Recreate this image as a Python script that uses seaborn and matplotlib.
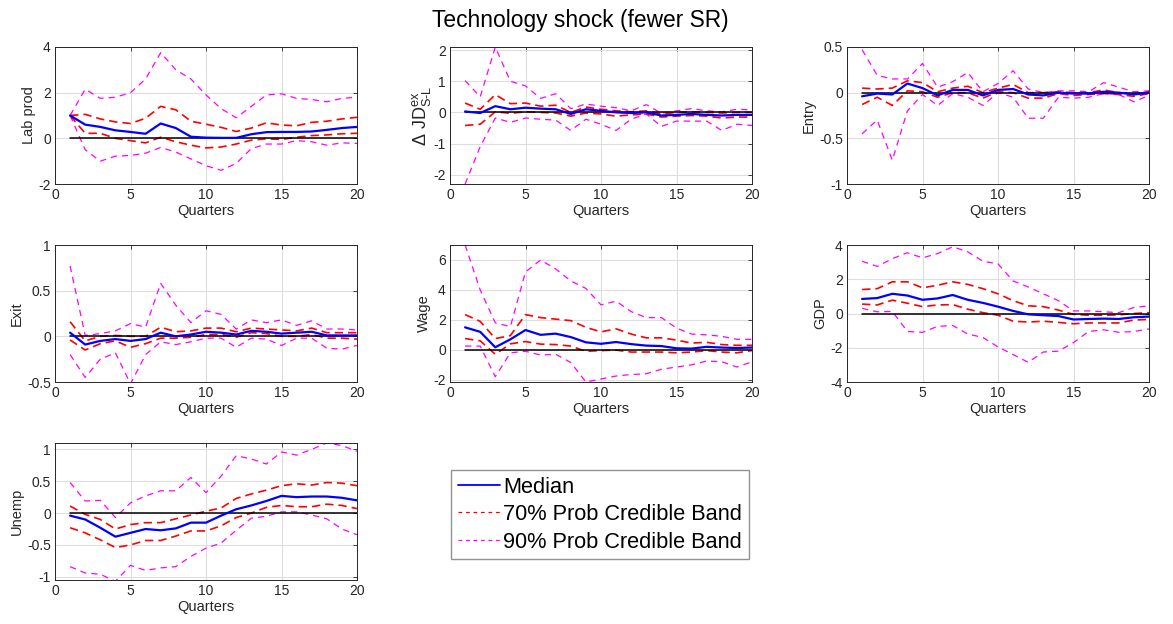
import numpy as np
import pandas as pd
import matplotlib
matplotlib.use("Agg")
import matplotlib.pyplot as plt
import seaborn as sns
from matplotlib.lines import Line2D

quarters = list(range(1, 21))

labprod_med = [1.0, 0.6, 0.5, 0.35, 0.28, 0.2, 0.65, 0.45, 0.07, 0.03, 0.02, 0.02, 0.18, 0.27, 0.28, 0.28, 0.3, 0.37, 0.45, 0.5]
labprod_u70 = [1.0, 1.05, 0.85, 0.72, 0.65, 0.88, 1.4, 1.25, 0.75, 0.62, 0.48, 0.3, 0.45, 0.68, 0.58, 0.55, 0.7, 0.75, 0.85, 0.92]
labprod_l70 = [1.0, 0.22, 0.22, 0.0, -0.1, -0.2, 0.05, -0.15, -0.3, -0.42, -0.38, -0.25, -0.08, -0.02, -0.05, 0.05, 0.12, 0.15, 0.2, 0.22]
labprod_u90 = [1.0, 2.15, 1.75, 1.8, 2.0, 2.6, 3.75, 3.0, 2.6, 1.9, 1.3, 0.9, 1.4, 1.9, 1.95, 1.75, 1.7, 1.6, 1.75, 1.8]
labprod_l90 = [1.0, -0.5, -1.0, -0.78, -0.75, -0.65, -0.4, -0.6, -0.9, -1.2, -1.4, -1.1, -0.45, -0.25, -0.25, -0.1, -0.15, -0.3, -0.2, -0.22]

jd_med = [0.03, -0.02, 0.2, 0.1, 0.15, 0.12, 0.1, -0.05, 0.1, 0.05, 0.0, -0.02, 0.0, -0.1, -0.08, -0.05, -0.08, -0.1, -0.08, -0.08]
jd_u70 = [0.3, 0.1, 0.57, 0.28, 0.3, 0.2, 0.23, 0.0, 0.17, 0.1, 0.05, 0.02, 0.05, -0.05, 0.0, 0.02, 0.0, -0.02, 0.0, 0.0]
jd_l70 = [-0.42, -0.38, 0.02, -0.03, 0.02, 0.0, -0.02, -0.12, -0.02, -0.05, -0.12, -0.08, -0.05, -0.15, -0.12, -0.1, -0.12, -0.18, -0.15, -0.15]
jd_u90 = [1.02, 0.5, 2.1, 1.0, 0.85, 0.45, 0.6, 0.12, 0.27, 0.2, 0.15, 0.05, 0.25, -0.03, 0.05, 0.12, 0.05, 0.02, 0.1, 0.08]
jd_l90 = [-2.3, -1.1, -0.18, -0.32, -0.18, -0.22, -0.25, -0.58, -0.22, -0.38, -0.58, -0.22, -0.05, -0.45, -0.28, -0.28, -0.28, -0.58, -0.38, -0.42]

entry_med = [-0.04, -0.01, -0.02, 0.1, 0.05, -0.03, 0.03, 0.03, -0.03, 0.03, 0.04, -0.02, -0.03, 0.0, -0.01, -0.01, 0.01, 0.0, -0.02, 0.0]
entry_u70 = [0.05, 0.04, 0.05, 0.13, 0.11, 0.01, 0.05, 0.07, 0.0, 0.05, 0.09, 0.0, 0.0, 0.01, 0.0, 0.0, 0.03, 0.0, -0.01, 0.01]
entry_l70 = [-0.13, -0.05, -0.14, 0.02, 0.01, -0.05, 0.0, 0.0, -0.06, 0.01, 0.0, -0.06, -0.06, -0.01, -0.03, -0.02, -0.01, -0.02, -0.04, -0.01]
entry_u90 = [0.47, 0.19, 0.15, 0.15, 0.32, 0.06, 0.12, 0.22, 0.01, 0.1, 0.24, 0.04, 0.0, 0.02, 0.02, 0.01, 0.11, 0.06, 0.01, 0.02]
entry_l90 = [-0.45, -0.3, -0.74, -0.2, -0.02, -0.14, -0.01, -0.05, -0.14, 0.0, -0.05, -0.28, -0.28, -0.05, -0.06, -0.05, -0.01, -0.02, -0.1, -0.03]

exit_med = [0.04, -0.09, -0.05, -0.03, -0.05, -0.03, 0.04, 0.0, 0.02, 0.05, 0.04, 0.02, 0.06, 0.05, 0.03, 0.04, 0.05, 0.01, 0.01, 0.01]
exit_u70 = [0.16, -0.05, 0.0, 0.01, 0.0, 0.0, 0.1, 0.05, 0.06, 0.09, 0.09, 0.05, 0.09, 0.08, 0.07, 0.06, 0.09, 0.04, 0.04, 0.04]
exit_l70 = [-0.04, -0.15, -0.08, -0.05, -0.12, -0.08, -0.02, -0.02, -0.01, 0.02, 0.02, -0.01, 0.04, 0.03, 0.0, 0.0, 0.02, -0.02, -0.02, -0.03]
exit_u90 = [0.77, 0.01, 0.03, 0.06, 0.14, 0.1, 0.58, 0.34, 0.15, 0.28, 0.24, 0.08, 0.18, 0.15, 0.18, 0.12, 0.17, 0.08, 0.08, 0.07]
exit_l90 = [-0.2, -0.45, -0.25, -0.18, -0.52, -0.2, -0.06, -0.09, -0.06, -0.02, -0.02, -0.12, -0.02, -0.03, -0.1, -0.02, -0.02, -0.13, -0.14, -0.1]

wage_med = [1.5, 1.2, 0.17, 0.7, 1.32, 1.0, 1.08, 0.85, 0.5, 0.4, 0.52, 0.38, 0.28, 0.25, 0.1, 0.08, 0.2, 0.15, 0.12, 0.15]
wage_u70 = [2.35, 1.9, 0.75, 0.95, 2.35, 2.15, 2.05, 1.95, 1.5, 1.2, 1.4, 1.05, 0.8, 0.8, 0.65, 0.45, 0.5, 0.35, 0.3, 0.3]
wage_l70 = [0.75, 0.6, -0.3, 0.4, 0.55, 0.38, 0.35, 0.25, -0.1, -0.05, -0.02, -0.15, -0.15, -0.15, -0.2, -0.15, -0.05, -0.15, -0.2, -0.05]
wage_u90 = [7.0, 4.0, 1.8, 1.55, 5.2, 6.0, 5.4, 4.6, 4.1, 3.0, 3.25, 2.55, 2.15, 2.15, 1.45, 1.05, 1.0, 0.9, 0.7, 0.7]
wage_l90 = [0.25, 0.25, -1.8, -0.2, -0.1, -0.35, -0.3, -0.85, -2.15, -1.95, -1.75, -1.65, -1.6, -1.3, -1.15, -1.0, -0.75, -0.8, -1.15, -0.8]

gdp_med = [0.85, 0.9, 1.15, 1.05, 0.8, 0.88, 1.08, 0.8, 0.62, 0.4, 0.15, -0.05, -0.1, -0.15, -0.35, -0.32, -0.3, -0.32, -0.22, -0.18]
gdp_u70 = [1.4, 1.45, 1.85, 1.85, 1.5, 1.65, 1.85, 1.7, 1.45, 1.15, 0.75, 0.45, 0.4, 0.2, -0.05, -0.1, -0.1, -0.08, 0.0, 0.05]
gdp_l70 = [0.55, 0.5, 0.78, 0.6, 0.4, 0.5, 0.52, 0.25, 0.05, -0.1, -0.45, -0.5, -0.45, -0.52, -0.6, -0.55, -0.55, -0.55, -0.38, -0.35]
gdp_u90 = [3.05, 2.75, 3.2, 3.55, 3.25, 3.5, 3.9, 3.6, 3.05, 2.9, 1.9, 1.55, 1.15, 0.75, 0.15, 0.15, 0.1, 0.05, 0.35, 0.45]
gdp_l90 = [0.3, 0.1, 0.12, -1.05, -1.1, -0.75, -0.7, -1.2, -1.4, -1.95, -2.4, -2.85, -2.25, -2.2, -1.7, -1.05, -0.95, -1.1, -1.05, -0.9]

unemp_med = [-0.04, -0.1, -0.23, -0.37, -0.31, -0.25, -0.27, -0.24, -0.15, -0.15, -0.04, 0.06, 0.12, 0.19, 0.27, 0.25, 0.26, 0.26, 0.24, 0.2]
unemp_u70 = [0.11, -0.02, -0.1, -0.25, -0.18, -0.15, -0.15, -0.09, -0.03, 0.03, 0.08, 0.23, 0.3, 0.36, 0.43, 0.46, 0.44, 0.48, 0.47, 0.43]
unemp_l70 = [-0.23, -0.31, -0.42, -0.54, -0.5, -0.43, -0.43, -0.36, -0.28, -0.28, -0.2, -0.07, 0.0, 0.09, 0.12, 0.1, 0.1, 0.14, 0.12, 0.07]
unemp_u90 = [0.48, 0.19, 0.2, -0.07, 0.16, 0.27, 0.35, 0.35, 0.56, 0.32, 0.58, 0.9, 0.85, 0.77, 0.96, 0.91, 1.0, 1.1, 1.06, 0.97]
unemp_l90 = [-0.84, -0.94, -0.96, -1.07, -0.82, -0.9, -0.86, -0.84, -0.68, -0.55, -0.47, -0.27, -0.08, -0.05, 0.02, 0.02, -0.03, -0.09, -0.25, -0.34]

panel_titles = ["Lab prod", r"$\Delta\ \mathrm{JD}^{\mathrm{ex}}_{\mathrm{S\text{-}L}}$", "Entry", "Exit", "Wage", "GDP", "Unemp"]
legend_labels = ["Median", "70% Prob Credible Band", "90% Prob Credible Band"]
fig_title = "Technology shock (fewer SR)"

panels = [
    (labprod_med, labprod_u70, labprod_l70, labprod_u90, labprod_l90),
    (jd_med, jd_u70, jd_l70, jd_u90, jd_l90),
    (entry_med, entry_u70, entry_l70, entry_u90, entry_l90),
    (exit_med, exit_u70, exit_l70, exit_u90, exit_l90),
    (wage_med, wage_u70, wage_l70, wage_u90, wage_l90),
    (gdp_med, gdp_u70, gdp_l70, gdp_u90, gdp_l90),
    (unemp_med, unemp_u70, unemp_l70, unemp_u90, unemp_l90),
]
ylims = [(-2, 4), (-2.3, 2.1), (-1, 0.5), (-0.5, 1), (-2.15, 7), (-4, 4), (-1.05, 1.1)]
yticks = [[-2, 0, 2, 4], [-2, -1, 0, 1, 2], [-1, -0.5, 0, 0.5], [-0.5, 0, 0.5, 1],
          [-2, 0, 2, 4, 6], [-4, -2, 0, 2, 4], [-1, -0.5, 0, 0.5, 1]]

sns.set_style("white")
plt.rcParams["font.family"] = ["Liberation Sans", "DejaVu Sans"]
plt.rcParams["mathtext.fontset"] = "custom"
plt.rcParams["mathtext.rm"] = "Liberation Sans"
plt.rcParams["mathtext.it"] = "Liberation Sans"
plt.rcParams["mathtext.bf"] = "Liberation Sans:bold"

fig = plt.figure(figsize=(11.73, 6.24), dpi=100)

W = 302 / 1173
H = 137 / 624
lefts = [55 / 1173, 450 / 1173, 847 / 1173]
bottoms = [1 - 184 / 624, 1 - 382 / 624, 1 - 580 / 624]

axc = "#262626"
for i, (med, u70, l70, u90, l90) in enumerate(panels):
    r, c = divmod(i, 3)
    ax = fig.add_axes([lefts[c], bottoms[r], W, H])
    df = pd.DataFrame({"q": quarters, "med": med, "u70": u70, "l70": l70, "u90": u90, "l90": l90})
    sns.lineplot(data=df, x="q", y="u90", ax=ax, color="#ff00ff", linestyle=(0, (5, 4)), linewidth=0.9)
    sns.lineplot(data=df, x="q", y="l90", ax=ax, color="#ff00ff", linestyle=(0, (5, 4)), linewidth=0.9)
    sns.lineplot(data=df, x="q", y="u70", ax=ax, color="#ff0000", linestyle=(0, (5, 3)), linewidth=1.2)
    sns.lineplot(data=df, x="q", y="l70", ax=ax, color="#ff0000", linestyle=(0, (5, 3)), linewidth=1.2)
    sns.lineplot(x=[quarters[0], quarters[-1]], y=[0, 0], ax=ax, color="black", linewidth=1.1)
    sns.lineplot(data=df, x="q", y="med", ax=ax, color="#0000ff", linewidth=1.6)
    ax.set_xlim(0, 20)
    ax.set_xticks([0, 5, 10, 15, 20])
    ax.set_ylim(*ylims[i])
    ax.set_yticks(yticks[i])
    ax.set_yticklabels([("%g" % t) for t in yticks[i]])
    ax.grid(True, color="#dedede", linewidth=0.8)
    ax.set_axisbelow(True)
    ax.set_xlabel("Quarters", fontsize=10.5, color=axc, labelpad=1)
    ax.set_ylabel(panel_titles[i], fontsize=13 if i == 1 else 10.5, color=axc,
                  labelpad=0 if i == 1 else 2)
    ax.tick_params(direction="in", length=3, width=0.6, labelsize=10, colors=axc,
                   top=True, right=True, pad=3)
    for s in ax.spines.values():
        s.set_color(axc)
        s.set_linewidth(0.7)

handles = [Line2D([], [], color="#0000ff", linewidth=1.3),
           Line2D([], [], color="#ff0000", linewidth=0.9, linestyle=(0, (3, 3))),
           Line2D([], [], color="#ff00ff", linewidth=0.9, linestyle=(0, (3, 3)))]
leg = fig.legend(handles, legend_labels, loc="upper left",
                 bbox_to_anchor=(451 / 1173, 1 - 470 / 624), bbox_transform=fig.transFigure,
                 fontsize=15.7, frameon=True, fancybox=False, borderaxespad=0,
                 handlelength=1.95, handletextpad=0.15, labelspacing=0.3, borderpad=0.3,
                 labelcolor="black")
leg.get_frame().set_edgecolor("#777777")
leg.get_frame().set_linewidth(1.0)

fig.suptitle(fig_title, x=580 / 1173, y=1 - 9 / 624, va="top", fontsize=16.4, color="black")

fig.savefig("out.png", dpi=100)
